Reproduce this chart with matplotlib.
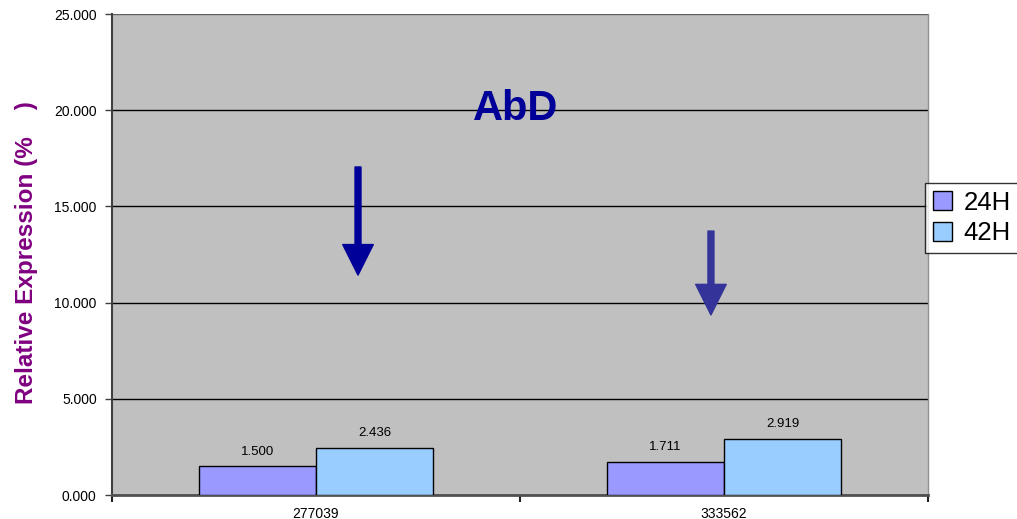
import numpy as np
import matplotlib.pyplot as plt

plt.rcParams['font.family'] = ['Liberation Sans', 'DejaVu Sans']

# Relative expression per clone at two time points
clones = ["277039", "333562"]
series = ["24H", "42H"]
expr_24h = [1.500, 1.711]
expr_42h = [2.436, 2.919]
bar_colors = ["#9999FF", "#99CCFF"]

fig = plt.figure(figsize=(10.17, 5.19), dpi=100)
ax = fig.add_axes([0.1101, 0.0462, 0.8024, 0.9268])
ax.set_facecolor("#C0C0C0")

x = np.arange(len(clones))
w = 0.287
for i, (vals, name, col) in enumerate(zip([expr_24h, expr_42h], series, bar_colors)):
    pos = x + (i - 0.5) * w
    bars = ax.bar(pos, vals, width=w, color=col, edgecolor="black", linewidth=1,
                  label=name, zorder=3)
    for b, v in zip(bars, vals):
        ax.text(b.get_x() + b.get_width() / 2, v + 0.45, f"{v:.3f}",
                ha="center", va="bottom", fontsize=9.5, zorder=4)

ax.set_xlim(-0.5, 1.5)
ax.set_ylim(0, 25)
ax.set_yticks(np.arange(0, 26, 5))
ax.set_yticklabels([f"{t:.3f}" for t in np.arange(0, 26, 5)], fontsize=10)
ax.yaxis.grid(True, color="black", linewidth=1)
ax.get_ygridlines()[-1].set_color("#606060")
ax.set_axisbelow(True)
ax.tick_params(axis="y", length=5, width=1, color="#404040", direction="out", pad=6)

# category labels centred, tick marks on category boundaries
ax.set_xticks(x)
ax.set_xticklabels(clones, fontsize=10)
ax.set_xticks([-0.5, 0.5, 1.5], minor=True)
ax.tick_params(axis="x", which="major", length=0, pad=8.5)
ax.tick_params(axis="x", which="minor", length=5, width=1.5, color="#202020")

ax.spines["top"].set_visible(False)
ax.spines["right"].set_color("#909090")
ax.spines["right"].set_linewidth(1)
ax.spines["left"].set_color("#404040")
ax.spines["left"].set_linewidth(1.5)
ax.spines["bottom"].set_color("#505050")
ax.spines["bottom"].set_linewidth(2)

ax.set_ylabel("Relative Expression (%    )", fontsize=17.5, fontweight="bold",
              color="#800080")
ax.yaxis.set_label_coords(-0.091, 0.505)

ax.text(0.49, 20.05, "AbD", ha="center", va="center", fontsize=30,
        fontweight="bold", color="#000099")

# downward arrows marking each clone
arrows = [((0.103, 17.05), (0.103, 11.43), "#000099"),
          ((0.968, 13.72), (0.968, 9.36), "#333399")]
for tail, tip, col in arrows:
    ax.annotate("", xy=tip, xytext=tail,
                arrowprops=dict(arrowstyle="simple,head_length=22,head_width=22,tail_width=4.3",
                                mutation_scale=1, color=col, shrinkA=0, shrinkB=0),
                zorder=5)

leg = fig.legend(loc="upper left", bbox_to_anchor=(925 / 1017, 1 - 183 / 519),
                 fontsize=18.5, frameon=True, fancybox=False, edgecolor="black",
                 borderpad=0.3, handlelength=0.75, handleheight=0.75,
                 handletextpad=0.45, labelspacing=0.25, borderaxespad=0)
leg.get_frame().set_linewidth(1)

fig.savefig("out.png", dpi=100)
